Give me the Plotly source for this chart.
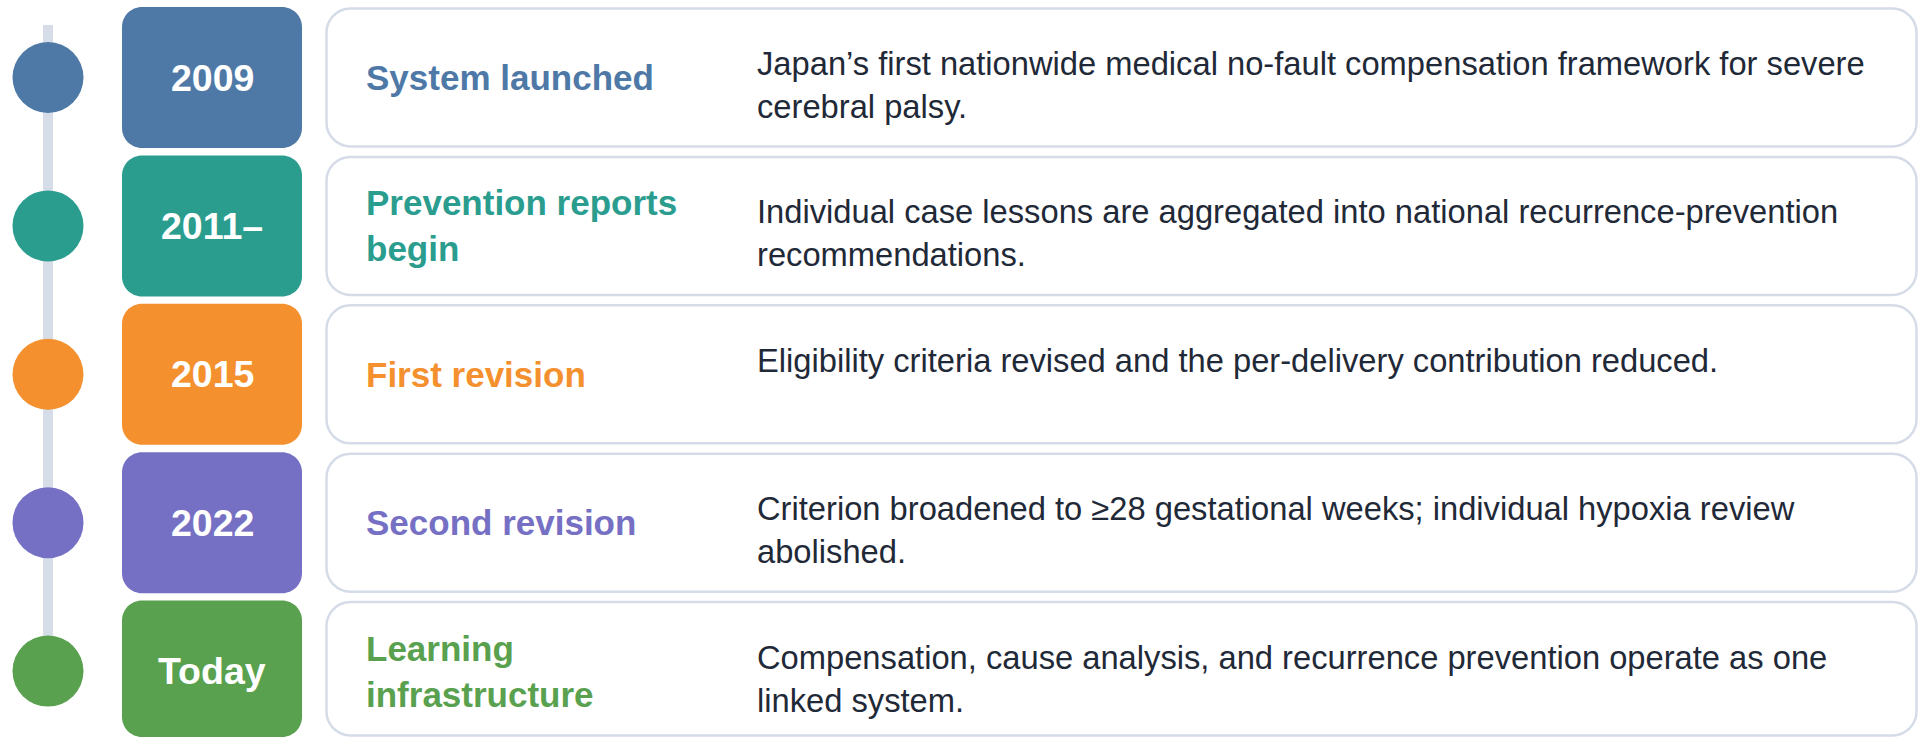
import plotly.graph_objects as go

# ---------------- data ----------------
years = ["2009", "2011–", "2015", "2022", "Today"]
titles = ["System launched", "Prevention reports<br>begin", "First revision",
          "Second revision", "Learning<br>infrastructure"]
descriptions = [
    "Japan’s first nationwide medical no-fault compensation framework for severe<br>cerebral palsy.",
    "Individual case lessons are aggregated into national recurrence-prevention<br>recommendations.",
    "Eligibility criteria revised and the per-delivery contribution reduced.",
    "Criterion broadened to ≥28 gestational weeks; individual hypoxia review<br>abolished.",
    "Compensation, cause analysis, and recurrence prevention operate as one<br>linked system.",
]
colors = ["#4E79A7", "#2A9D8F", "#F4902E", "#7670C4", "#59A14F"]

# ---------------- layout constants (page pixels) ----------------
W, H = 1921, 738
PITCH = 148.4          # px between row centres
ROW0 = 77.5            # px of first row centre
BOX_HALF = 70.5        # half height of year box
LINE_X = 48
YEAR_X0, YEAR_X1 = 122, 302
CARD_X0, CARD_X1 = 326.5, 1916.5
TITLE_X = 364
DESC_X = 755
FONT = "Liberation Sans, Arial, sans-serif"

rows = list(range(len(years)))
y_min = -ROW0 / PITCH
y_max = (H - ROW0) / PITCH
y_limit = (H - 1 - ROW0) / PITCH   # boxes stop just above the bottom edge


def py(px):
    """pixel length -> row units"""
    return px / PITCH


def rounded_rect(x0, x1, ya, yb, r):
    k = 0.5523 * r
    ry, ky = py(r), py(k)
    return (f"M {x0 + r},{ya} L {x1 - r},{ya} "
            f"C {x1 - r + k},{ya} {x1},{ya + ry - ky} {x1},{ya + ry} "
            f"L {x1},{yb - ry} "
            f"C {x1},{yb - ry + ky} {x1 - r + k},{yb} {x1 - r},{yb} "
            f"L {x0 + r},{yb} "
            f"C {x0 + r - k},{yb} {x0},{yb - ry + ky} {x0},{yb - ry} "
            f"L {x0},{ya + ry} "
            f"C {x0},{ya + ry - ky} {x0 + r - k},{ya} {x0 + r},{ya} Z")


fig = go.Figure()

# vertical timeline line
fig.add_trace(go.Scatter(
    x=[LINE_X, LINE_X], y=[-py(ROW0 - 25), rows[-1]],
    mode="lines", line=dict(color="#D7DDE8", width=10),
    hoverinfo="skip", showlegend=False))

# timeline dots
fig.add_trace(go.Scatter(
    x=[LINE_X] * len(rows), y=rows, mode="markers",
    marker=dict(size=71, color=colors, line=dict(width=0)),
    hoverinfo="skip", showlegend=False))

shapes = []
annotations = []
for i, (yr, t, d, c) in enumerate(zip(years, titles, descriptions, colors)):
    top = i - py(BOX_HALF)
    bottom = min(i + py(BOX_HALF), y_limit)
    shapes.append(dict(type="path", xref="x", yref="y", layer="below",
                       path=rounded_rect(YEAR_X0, YEAR_X1, top, bottom, 20),
                       fillcolor=c, line=dict(width=0)))
    shapes.append(dict(type="path", xref="x", yref="y", layer="below",
                       path=rounded_rect(CARD_X0, CARD_X1, top + py(1.5), bottom - py(1.5), 24),
                       fillcolor="white", line=dict(color="#D5DCE8", width=2.5)))
    annotations.append(dict(x=(YEAR_X0 + YEAR_X1) / 2, y=i, xref="x", yref="y",
                            text=yr, showarrow=False, xanchor="center", yanchor="middle",
                            font=dict(family=FONT, size=37.5, color="white", weight="bold")))
    annotations.append(dict(x=TITLE_X, y=i, xref="x", yref="y", text=t,
                            showarrow=False, xanchor="left", yanchor="middle", align="left",
                            font=dict(family=FONT, size=35, color=c, weight="bold")))
    annotations.append(dict(x=DESC_X, y=top + py(36), xref="x", yref="y",
                            text=d, showarrow=False, xanchor="left", yanchor="top",
                            align="left",
                            font=dict(family=FONT, size=32.7, color="#1F2937")))

fig.update_layout(
    width=W, height=H,
    margin=dict(l=0, r=0, t=0, b=0),
    paper_bgcolor="white", plot_bgcolor="white",
    xaxis=dict(range=[0, W], visible=False, fixedrange=True),
    yaxis=dict(range=[y_max, y_min], visible=False, fixedrange=True),
    shapes=shapes, annotations=annotations,
    showlegend=False,
)

fig.write_html(
    "out.html",
    config={"displayModeBar": False},
    post_script="document.body.style.margin='0';document.body.style.overflow='hidden';",
)
